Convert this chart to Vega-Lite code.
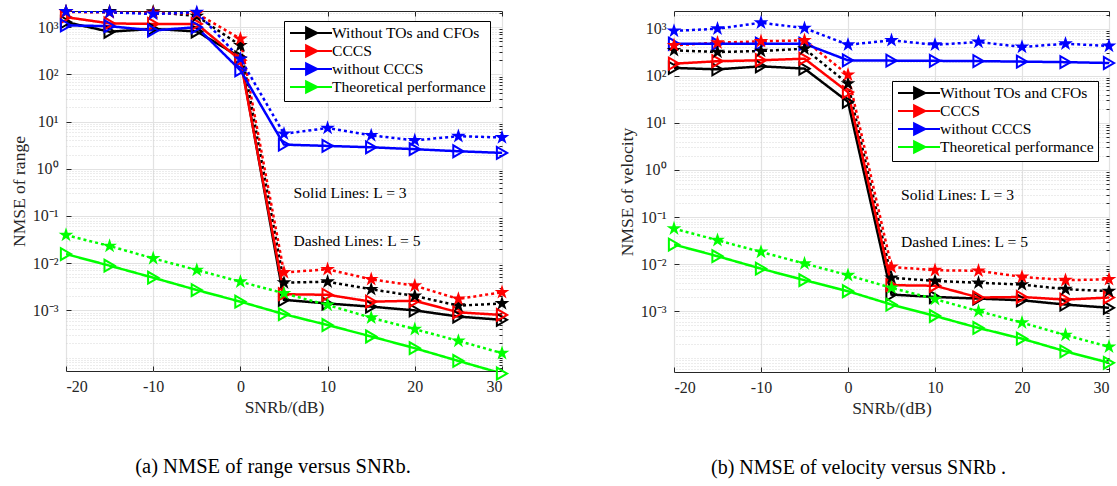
{
  "$schema": "https://vega.github.io/schema/vega-lite/v6.json",
  "padding": {"left": 9, "top": 3, "right": 2, "bottom": 2},
  "bounds": "flush",
  "spacing": 172,
  "resolve": {"scale": {"color": "independent", "strokeDash": "independent"}, "legend": {"color": "independent"}},
  "config": {
    "font": "'Liberation Serif', 'Times New Roman', Times, serif",
    "view": {"stroke": "#262626", "strokeWidth": 1},
    "axis": {
      "labelFont": "'Liberation Serif', 'Times New Roman', Times, serif",
      "labelFontSize": 16,
      "labelColor": "#262626",
      "titleFont": "'Liberation Serif', 'Times New Roman', Times, serif",
      "titleFontSize": 17.5,
      "titleFontWeight": "normal",
      "titleColor": "#262626",
      "tickColor": "#262626",
      "domain": false
    },
    "legend": {
      "labelFont": "'Liberation Serif', 'Times New Roman', Times, serif",
      "labelFontSize": 15.6,
      "labelColor": "#000000",
      "labelLimit": 400
    },
    "title": {"font": "'Liberation Serif', 'Times New Roman', Times, serif"},
    "text": {"font": "'Liberation Serif', 'Times New Roman', Times, serif"}
  },
  "datasets": {
    "notes": [
      {"t": "Solid Lines: L = 3", "x": 6.1, "y": 0.3},
      {"t": "Dashed Lines: L = 5", "x": 6.1, "y": 0.03}
    ],
    "range": [
      {"s":"Without TOs and CFOs","L":"L = 3","x":-20,"y":1280},
      {"s":"Without TOs and CFOs","L":"L = 3","x":-15,"y":800},
      {"s":"Without TOs and CFOs","L":"L = 3","x":-10,"y":920},
      {"s":"Without TOs and CFOs","L":"L = 3","x":-5,"y":810},
      {"s":"Without TOs and CFOs","L":"L = 3","x":0,"y":230},
      {"s":"Without TOs and CFOs","L":"L = 3","x":5,"y":0.00167},
      {"s":"Without TOs and CFOs","L":"L = 3","x":10,"y":0.0014},
      {"s":"Without TOs and CFOs","L":"L = 3","x":15,"y":0.0012},
      {"s":"Without TOs and CFOs","L":"L = 3","x":20,"y":0.001},
      {"s":"Without TOs and CFOs","L":"L = 3","x":25,"y":0.00074},
      {"s":"Without TOs and CFOs","L":"L = 3","x":30,"y":0.00063},
      {"s":"Without TOs and CFOs","L":"L = 5","x":-20,"y":2150},
      {"s":"Without TOs and CFOs","L":"L = 5","x":-15,"y":2150},
      {"s":"Without TOs and CFOs","L":"L = 5","x":-10,"y":2120},
      {"s":"Without TOs and CFOs","L":"L = 5","x":-5,"y":1710},
      {"s":"Without TOs and CFOs","L":"L = 5","x":0,"y":410},
      {"s":"Without TOs and CFOs","L":"L = 5","x":5,"y":0.00387},
      {"s":"Without TOs and CFOs","L":"L = 5","x":10,"y":0.00405},
      {"s":"Without TOs and CFOs","L":"L = 5","x":15,"y":0.0028},
      {"s":"Without TOs and CFOs","L":"L = 5","x":20,"y":0.00202},
      {"s":"Without TOs and CFOs","L":"L = 5","x":25,"y":0.00126},
      {"s":"Without TOs and CFOs","L":"L = 5","x":30,"y":0.0014},
      {"s":"CCCS","L":"L = 3","x":-20,"y":1630},
      {"s":"CCCS","L":"L = 3","x":-15,"y":1200},
      {"s":"CCCS","L":"L = 3","x":-10,"y":1170},
      {"s":"CCCS","L":"L = 3","x":-5,"y":1170},
      {"s":"CCCS","L":"L = 3","x":0,"y":200},
      {"s":"CCCS","L":"L = 3","x":5,"y":0.0022},
      {"s":"CCCS","L":"L = 3","x":10,"y":0.00214},
      {"s":"CCCS","L":"L = 3","x":15,"y":0.00153},
      {"s":"CCCS","L":"L = 3","x":20,"y":0.0016},
      {"s":"CCCS","L":"L = 3","x":25,"y":0.00091},
      {"s":"CCCS","L":"L = 3","x":30,"y":0.0008},
      {"s":"CCCS","L":"L = 5","x":-20,"y":2100},
      {"s":"CCCS","L":"L = 5","x":-15,"y":2050},
      {"s":"CCCS","L":"L = 5","x":-10,"y":2000},
      {"s":"CCCS","L":"L = 5","x":-5,"y":1950},
      {"s":"CCCS","L":"L = 5","x":0,"y":566},
      {"s":"CCCS","L":"L = 5","x":5,"y":0.00638},
      {"s":"CCCS","L":"L = 5","x":10,"y":0.0074},
      {"s":"CCCS","L":"L = 5","x":15,"y":0.00455},
      {"s":"CCCS","L":"L = 5","x":20,"y":0.00334},
      {"s":"CCCS","L":"L = 5","x":25,"y":0.00175},
      {"s":"CCCS","L":"L = 5","x":30,"y":0.00242},
      {"s":"without CCCS","L":"L = 3","x":-20,"y":1090},
      {"s":"without CCCS","L":"L = 3","x":-15,"y":1050},
      {"s":"without CCCS","L":"L = 3","x":-10,"y":850},
      {"s":"without CCCS","L":"L = 3","x":-5,"y":1000},
      {"s":"without CCCS","L":"L = 3","x":0,"y":122},
      {"s":"without CCCS","L":"L = 3","x":5,"y":3.25},
      {"s":"without CCCS","L":"L = 3","x":10,"y":3.05},
      {"s":"without CCCS","L":"L = 3","x":15,"y":2.85},
      {"s":"without CCCS","L":"L = 3","x":20,"y":2.6},
      {"s":"without CCCS","L":"L = 3","x":25,"y":2.35},
      {"s":"without CCCS","L":"L = 3","x":30,"y":2.17},
      {"s":"without CCCS","L":"L = 5","x":-20,"y":2150},
      {"s":"without CCCS","L":"L = 5","x":-15,"y":2070},
      {"s":"without CCCS","L":"L = 5","x":-10,"y":1900},
      {"s":"without CCCS","L":"L = 5","x":-5,"y":2070},
      {"s":"without CCCS","L":"L = 5","x":0,"y":214},
      {"s":"without CCCS","L":"L = 5","x":5,"y":5.5},
      {"s":"without CCCS","L":"L = 5","x":10,"y":7.3},
      {"s":"without CCCS","L":"L = 5","x":15,"y":5.1},
      {"s":"without CCCS","L":"L = 5","x":20,"y":4.0},
      {"s":"without CCCS","L":"L = 5","x":25,"y":4.9},
      {"s":"without CCCS","L":"L = 5","x":30,"y":4.6},
      {"s":"Theoretical performance","L":"L = 3","x":-20,"y":0.0156},
      {"s":"Theoretical performance","L":"L = 3","x":-15,"y":0.00885},
      {"s":"Theoretical performance","L":"L = 3","x":-10,"y":0.00493},
      {"s":"Theoretical performance","L":"L = 3","x":-5,"y":0.0027},
      {"s":"Theoretical performance","L":"L = 3","x":0,"y":0.00153},
      {"s":"Theoretical performance","L":"L = 3","x":5,"y":0.00083},
      {"s":"Theoretical performance","L":"L = 3","x":10,"y":0.00049},
      {"s":"Theoretical performance","L":"L = 3","x":15,"y":0.00028},
      {"s":"Theoretical performance","L":"L = 3","x":20,"y":0.000158},
      {"s":"Theoretical performance","L":"L = 3","x":25,"y":0.000085},
      {"s":"Theoretical performance","L":"L = 3","x":30,"y":0.000046},
      {"s":"Theoretical performance","L":"L = 5","x":-20,"y":0.0394},
      {"s":"Theoretical performance","L":"L = 5","x":-15,"y":0.0231},
      {"s":"Theoretical performance","L":"L = 5","x":-10,"y":0.01265},
      {"s":"Theoretical performance","L":"L = 5","x":-5,"y":0.00716},
      {"s":"Theoretical performance","L":"L = 5","x":0,"y":0.00405},
      {"s":"Theoretical performance","L":"L = 5","x":5,"y":0.0023},
      {"s":"Theoretical performance","L":"L = 5","x":10,"y":0.0013},
      {"s":"Theoretical performance","L":"L = 5","x":15,"y":0.0007},
      {"s":"Theoretical performance","L":"L = 5","x":20,"y":0.0004},
      {"s":"Theoretical performance","L":"L = 5","x":25,"y":0.000226},
      {"s":"Theoretical performance","L":"L = 5","x":30,"y":0.000124}
    ],
    "velocity": [
      {"s":"Without TOs and CFOs","L":"L = 3","x":-20,"y":147},
      {"s":"Without TOs and CFOs","L":"L = 3","x":-15,"y":137},
      {"s":"Without TOs and CFOs","L":"L = 3","x":-10,"y":159},
      {"s":"Without TOs and CFOs","L":"L = 3","x":-5,"y":142},
      {"s":"Without TOs and CFOs","L":"L = 3","x":0,"y":28},
      {"s":"Without TOs and CFOs","L":"L = 3","x":5,"y":0.00225},
      {"s":"Without TOs and CFOs","L":"L = 3","x":10,"y":0.002},
      {"s":"Without TOs and CFOs","L":"L = 3","x":15,"y":0.00185},
      {"s":"Without TOs and CFOs","L":"L = 3","x":20,"y":0.0017},
      {"s":"Without TOs and CFOs","L":"L = 3","x":25,"y":0.00138},
      {"s":"Without TOs and CFOs","L":"L = 3","x":30,"y":0.00118},
      {"s":"Without TOs and CFOs","L":"L = 5","x":-20,"y":348},
      {"s":"Without TOs and CFOs","L":"L = 5","x":-15,"y":320},
      {"s":"Without TOs and CFOs","L":"L = 5","x":-10,"y":336},
      {"s":"Without TOs and CFOs","L":"L = 5","x":-5,"y":376},
      {"s":"Without TOs and CFOs","L":"L = 5","x":0,"y":68},
      {"s":"Without TOs and CFOs","L":"L = 5","x":5,"y":0.0051},
      {"s":"Without TOs and CFOs","L":"L = 5","x":10,"y":0.0044},
      {"s":"Without TOs and CFOs","L":"L = 5","x":15,"y":0.004},
      {"s":"Without TOs and CFOs","L":"L = 5","x":20,"y":0.00367},
      {"s":"Without TOs and CFOs","L":"L = 5","x":25,"y":0.00293},
      {"s":"Without TOs and CFOs","L":"L = 5","x":30,"y":0.00266},
      {"s":"CCCS","L":"L = 3","x":-20,"y":181},
      {"s":"CCCS","L":"L = 3","x":-15,"y":204},
      {"s":"CCCS","L":"L = 3","x":-10,"y":214},
      {"s":"CCCS","L":"L = 3","x":-5,"y":231},
      {"s":"CCCS","L":"L = 3","x":0,"y":45},
      {"s":"CCCS","L":"L = 3","x":5,"y":0.00356},
      {"s":"CCCS","L":"L = 3","x":10,"y":0.00347},
      {"s":"CCCS","L":"L = 3","x":15,"y":0.00195},
      {"s":"CCCS","L":"L = 3","x":20,"y":0.002},
      {"s":"CCCS","L":"L = 3","x":25,"y":0.00176},
      {"s":"CCCS","L":"L = 3","x":30,"y":0.00195},
      {"s":"CCCS","L":"L = 5","x":-20,"y":444},
      {"s":"CCCS","L":"L = 5","x":-15,"y":505},
      {"s":"CCCS","L":"L = 5","x":-10,"y":540},
      {"s":"CCCS","L":"L = 5","x":-5,"y":567},
      {"s":"CCCS","L":"L = 5","x":0,"y":105},
      {"s":"CCCS","L":"L = 5","x":5,"y":0.0087},
      {"s":"CCCS","L":"L = 5","x":10,"y":0.0074},
      {"s":"CCCS","L":"L = 5","x":15,"y":0.0072},
      {"s":"CCCS","L":"L = 5","x":20,"y":0.00535},
      {"s":"CCCS","L":"L = 5","x":25,"y":0.00455},
      {"s":"CCCS","L":"L = 5","x":30,"y":0.00475},
      {"s":"without CCCS","L":"L = 3","x":-20,"y":480},
      {"s":"without CCCS","L":"L = 3","x":-15,"y":480},
      {"s":"without CCCS","L":"L = 3","x":-10,"y":480},
      {"s":"without CCCS","L":"L = 3","x":-5,"y":480},
      {"s":"without CCCS","L":"L = 3","x":0,"y":213},
      {"s":"without CCCS","L":"L = 3","x":5,"y":210},
      {"s":"without CCCS","L":"L = 3","x":10,"y":208},
      {"s":"without CCCS","L":"L = 3","x":15,"y":205},
      {"s":"without CCCS","L":"L = 3","x":20,"y":200},
      {"s":"without CCCS","L":"L = 3","x":25,"y":195},
      {"s":"without CCCS","L":"L = 3","x":30,"y":187},
      {"s":"without CCCS","L":"L = 5","x":-20,"y":900},
      {"s":"without CCCS","L":"L = 5","x":-15,"y":1000},
      {"s":"without CCCS","L":"L = 5","x":-10,"y":1340},
      {"s":"without CCCS","L":"L = 5","x":-5,"y":1030},
      {"s":"without CCCS","L":"L = 5","x":0,"y":457},
      {"s":"without CCCS","L":"L = 5","x":5,"y":567},
      {"s":"without CCCS","L":"L = 5","x":10,"y":457},
      {"s":"without CCCS","L":"L = 5","x":15,"y":522},
      {"s":"without CCCS","L":"L = 5","x":20,"y":410},
      {"s":"without CCCS","L":"L = 5","x":25,"y":480},
      {"s":"without CCCS","L":"L = 5","x":30,"y":430},
      {"s":"Theoretical performance","L":"L = 3","x":-20,"y":0.026},
      {"s":"Theoretical performance","L":"L = 3","x":-15,"y":0.0147},
      {"s":"Theoretical performance","L":"L = 3","x":-10,"y":0.008},
      {"s":"Theoretical performance","L":"L = 3","x":-5,"y":0.00455},
      {"s":"Theoretical performance","L":"L = 3","x":0,"y":0.00265},
      {"s":"Theoretical performance","L":"L = 3","x":5,"y":0.00138},
      {"s":"Theoretical performance","L":"L = 3","x":10,"y":0.00079},
      {"s":"Theoretical performance","L":"L = 3","x":15,"y":0.00044},
      {"s":"Theoretical performance","L":"L = 3","x":20,"y":0.00026},
      {"s":"Theoretical performance","L":"L = 3","x":25,"y":0.00014},
      {"s":"Theoretical performance","L":"L = 3","x":30,"y":0.00008},
      {"s":"Theoretical performance","L":"L = 5","x":-20,"y":0.0567},
      {"s":"Theoretical performance","L":"L = 5","x":-15,"y":0.0321},
      {"s":"Theoretical performance","L":"L = 5","x":-10,"y":0.0181},
      {"s":"Theoretical performance","L":"L = 5","x":-5,"y":0.01026},
      {"s":"Theoretical performance","L":"L = 5","x":0,"y":0.0058},
      {"s":"Theoretical performance","L":"L = 5","x":5,"y":0.00313},
      {"s":"Theoretical performance","L":"L = 5","x":10,"y":0.0018},
      {"s":"Theoretical performance","L":"L = 5","x":15,"y":0.001},
      {"s":"Theoretical performance","L":"L = 5","x":20,"y":0.00057},
      {"s":"Theoretical performance","L":"L = 5","x":25,"y":0.00031},
      {"s":"Theoretical performance","L":"L = 5","x":30,"y":0.000175}
    ]
  },
  "hconcat": [
    {
      "width": 436,
      "height": 360,
      "title": {"text": "(a)  NMSE of range versus SNRb.", "orient": "bottom", "anchor": "middle", "fontSize": 20.5, "fontWeight": "normal", "color": "#000000", "offset": 41, "dx": -11},
      "resolve": {"axis": {"x": "independent", "y": "independent"}},
      "layer": [
        {
          "data": {"name": "range"},
          "mark": {"type": "line", "strokeWidth": 2.5, "clip": true},
          "encoding": {
            "x": {"field": "x", "type": "quantitative", "scale": {"domain": [-20, 30], "nice": false, "zero": false},
              "axis": {"orient": "bottom", "values": [-20, -10, 0, 10, 20, 30], "labelExpr": "replace(datum.label, '−', '-')", "title": "SNRb/(dB)", "grid": true, "gridColor": "#e2e2e2", "gridWidth": 1.2, "ticks": true, "tickSize": -5, "labelPadding": 12, "titlePadding": 4}},
            "y": {"field": "y", "type": "quantitative", "scale": {"type": "log", "domain": [0.000052, 2200], "nice": false},
              "axis": {"orient": "left", "values": [0.001, 0.01, 0.1, 1, 10, 100, 1000], "title": "NMSE of range", "grid": true, "gridColor": "#e2e2e2", "gridWidth": 1.2, "ticks": true, "tickSize": -5, "labelPadding": 13, "titlePadding": 4,
                "labelExpr": "datum.value >= 999 ? '10³' : datum.value >= 99 ? '10²' : datum.value >= 9 ? '10¹' : datum.value >= 0.9 ? '10⁰' : datum.value >= 0.09 ? '10⁻¹' : datum.value >= 0.009 ? '10⁻²' : '10⁻³'"}},
            "color": {"field": "s", "type": "nominal",
              "scale": {"domain": ["Without TOs and CFOs", "CCCS", "without CCCS", "Theoretical performance"], "range": ["#000000", "#ff0000", "#0000ff", "#00ff00"]},
              "legend": {"title": null, "orient": "none", "legendX": 218, "legendY": 10, "symbolType": "M-3,0L3,0M-0.7,-0.8L0.9,0L-0.7,0.8Z", "symbolSize": 196, "symbolStrokeWidth": 2, "symbolOffset": 15, "symbolFillColor": "transparent", "labelOffset": 13, "padding": 4, "rowPadding": -3, "strokeColor": "#000000", "fillColor": "#ffffff",
                "encode": {"symbols": {"update": {"fill": {"value": "transparent"}}}}}},
            "strokeDash": {"field": "L", "type": "nominal", "scale": {"domain": ["L = 3", "L = 5"], "range": [[1, 0], [3, 3]]}, "legend": null}
          }
        },
        {
          "data": {"name": "range"},
          "transform": [{"filter": "datum.L == 'L = 3'"}],
          "mark": {"type": "point", "shape": "triangle-right", "filled": false, "size": 140, "strokeWidth": 2, "opacity": 1},
          "encoding": {
            "x": {"field": "x", "type": "quantitative", "axis": {"orient": "top", "values": [-20, -10, 0, 10, 20, 30], "labels": false, "grid": false, "ticks": true, "tickSize": -5, "title": null}},
            "y": {"field": "y", "type": "quantitative", "axis": {"orient": "right", "labels": false, "ticks": true, "tickSize": -3, "title": null, "grid": true, "gridDash": [1, 2], "gridColor": "#cfcfcf", "gridWidth": 0.8,
              "values": [0.00006, 0.00007, 0.00008, 0.00009, 0.0001, 0.0002, 0.0003, 0.0004, 0.0005, 0.0006, 0.0007, 0.0008, 0.0009, 0.002, 0.003, 0.004, 0.005, 0.006, 0.007, 0.008, 0.009, 0.02, 0.03, 0.04, 0.05, 0.06, 0.07, 0.08, 0.09, 0.2, 0.3, 0.4, 0.5, 0.6, 0.7, 0.8, 0.9, 2, 3, 4, 5, 6, 7, 8, 9, 20, 30, 40, 50, 60, 70, 80, 90, 200, 300, 400, 500, 600, 700, 800, 900, 2000]}},
            "color": {"field": "s", "type": "nominal", "legend": null}
          }
        },
        {
          "data": {"name": "range"},
          "transform": [{"filter": "datum.L == 'L = 5'"}],
          "mark": {"type": "point", "shape": "M0,-1L0.225,-0.309L0.951,-0.309L0.363,0.118L0.588,0.809L0,0.382L-0.588,0.809L-0.363,0.118L-0.951,-0.309L-0.225,-0.309Z", "filled": true, "size": 240, "opacity": 1},
          "encoding": {
            "x": {"field": "x", "type": "quantitative", "axis": null},
            "y": {"field": "y", "type": "quantitative", "axis": null},
            "color": {"field": "s", "type": "nominal", "legend": null}
          }
        },
        {
          "data": {"name": "notes"},
          "mark": {"type": "text", "align": "left", "baseline": "middle", "fontSize": 15.6, "color": "#000000"},
          "encoding": {
            "x": {"field": "x", "type": "quantitative", "axis": null},
            "y": {"field": "y", "type": "quantitative", "axis": null},
            "text": {"field": "t"}
          }
        }
      ]
    },
    {
      "width": 435,
      "height": 361,
      "title": {"text": "(b)  NMSE of velocity versus SNRb .", "orient": "bottom", "anchor": "middle", "fontSize": 20, "fontWeight": "normal", "color": "#000000", "offset": 41, "dx": -33},
      "resolve": {"axis": {"x": "independent", "y": "independent"}},
      "layer": [
        {
          "data": {"name": "velocity"},
          "mark": {"type": "line", "strokeWidth": 2.5, "clip": true},
          "encoding": {
            "x": {"field": "x", "type": "quantitative", "scale": {"domain": [-20, 30], "nice": false, "zero": false},
              "axis": {"orient": "bottom", "values": [-20, -10, 0, 10, 20, 30], "labelExpr": "replace(datum.label, '−', '-')", "title": "SNRb/(dB)", "grid": true, "gridColor": "#e2e2e2", "gridWidth": 1.2, "ticks": true, "tickSize": -5, "labelPadding": 12, "titlePadding": 4}},
            "y": {"field": "y", "type": "quantitative", "scale": {"type": "log", "domain": [0.000051, 2380], "nice": false},
              "axis": {"orient": "left", "values": [0.001, 0.01, 0.1, 1, 10, 100, 1000], "title": "NMSE of velocity", "grid": true, "gridColor": "#e2e2e2", "gridWidth": 1.2, "ticks": true, "tickSize": -5, "labelPadding": 13, "titlePadding": 4,
                "labelExpr": "datum.value >= 999 ? '10³' : datum.value >= 99 ? '10²' : datum.value >= 9 ? '10¹' : datum.value >= 0.9 ? '10⁰' : datum.value >= 0.09 ? '10⁻¹' : datum.value >= 0.009 ? '10⁻²' : '10⁻³'"}},
            "color": {"field": "s", "type": "nominal",
              "scale": {"domain": ["Without TOs and CFOs", "CCCS", "without CCCS", "Theoretical performance"], "range": ["#000000", "#ff0000", "#0000ff", "#00ff00"]},
              "legend": {"title": null, "orient": "none", "legendX": 218, "legendY": 70, "symbolType": "M-3,0L3,0M-0.7,-0.8L0.9,0L-0.7,0.8Z", "symbolSize": 196, "symbolStrokeWidth": 2, "symbolOffset": 15, "symbolFillColor": "transparent", "labelOffset": 13, "padding": 4, "rowPadding": -3, "strokeColor": "#000000", "fillColor": "#ffffff",
                "encode": {"symbols": {"update": {"fill": {"value": "transparent"}}}}}},
            "strokeDash": {"field": "L", "type": "nominal", "scale": {"domain": ["L = 3", "L = 5"], "range": [[1, 0], [3, 3]]}, "legend": null}
          }
        },
        {
          "data": {"name": "velocity"},
          "transform": [{"filter": "datum.L == 'L = 3'"}],
          "mark": {"type": "point", "shape": "triangle-right", "filled": false, "size": 140, "strokeWidth": 2, "opacity": 1},
          "encoding": {
            "x": {"field": "x", "type": "quantitative", "axis": {"orient": "top", "values": [-20, -10, 0, 10, 20, 30], "labels": false, "grid": false, "ticks": true, "tickSize": -5, "title": null}},
            "y": {"field": "y", "type": "quantitative", "axis": {"orient": "right", "labels": false, "ticks": true, "tickSize": -3, "title": null, "grid": true, "gridDash": [1, 2], "gridColor": "#cfcfcf", "gridWidth": 0.8,
              "values": [0.00006, 0.00007, 0.00008, 0.00009, 0.0001, 0.0002, 0.0003, 0.0004, 0.0005, 0.0006, 0.0007, 0.0008, 0.0009, 0.002, 0.003, 0.004, 0.005, 0.006, 0.007, 0.008, 0.009, 0.02, 0.03, 0.04, 0.05, 0.06, 0.07, 0.08, 0.09, 0.2, 0.3, 0.4, 0.5, 0.6, 0.7, 0.8, 0.9, 2, 3, 4, 5, 6, 7, 8, 9, 20, 30, 40, 50, 60, 70, 80, 90, 200, 300, 400, 500, 600, 700, 800, 900, 2000]}},
            "color": {"field": "s", "type": "nominal", "legend": null}
          }
        },
        {
          "data": {"name": "velocity"},
          "transform": [{"filter": "datum.L == 'L = 5'"}],
          "mark": {"type": "point", "shape": "M0,-1L0.225,-0.309L0.951,-0.309L0.363,0.118L0.588,0.809L0,0.382L-0.588,0.809L-0.363,0.118L-0.951,-0.309L-0.225,-0.309Z", "filled": true, "size": 240, "opacity": 1},
          "encoding": {
            "x": {"field": "x", "type": "quantitative", "axis": null},
            "y": {"field": "y", "type": "quantitative", "axis": null},
            "color": {"field": "s", "type": "nominal", "legend": null}
          }
        },
        {
          "data": {"name": "notes"},
          "mark": {"type": "text", "align": "left", "baseline": "middle", "fontSize": 15.6, "color": "#000000"},
          "encoding": {
            "x": {"field": "x", "type": "quantitative", "axis": null},
            "y": {"field": "y", "type": "quantitative", "axis": null},
            "text": {"field": "t"}
          }
        }
      ]
    }
  ]
}
